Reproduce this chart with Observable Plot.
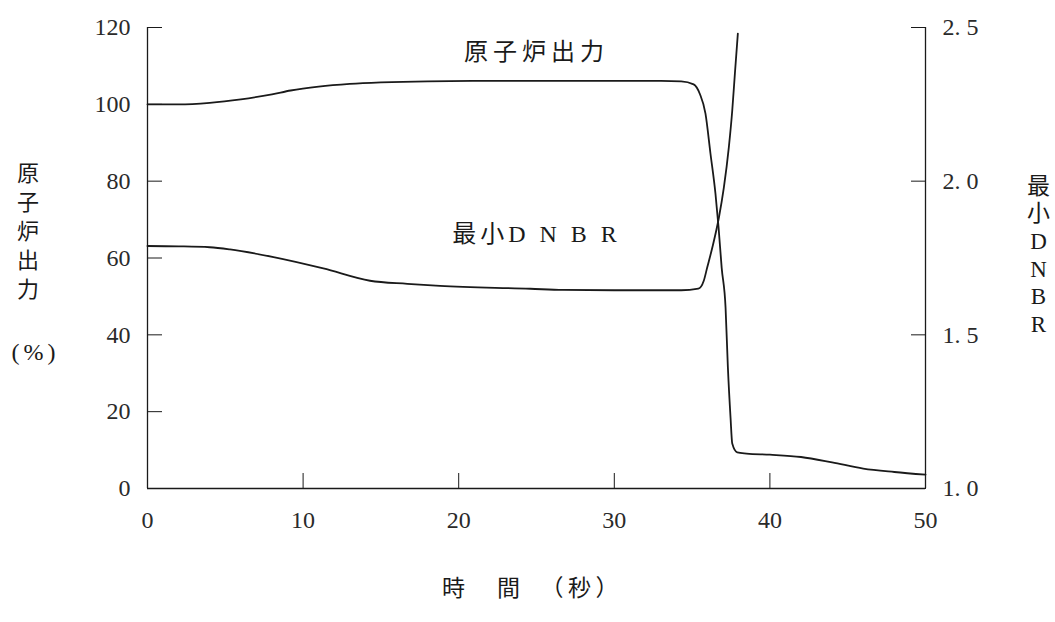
<!DOCTYPE html>
<html>
<head>
<meta charset="utf-8">
<script src="https://cdn.jsdelivr.net/npm/d3@7"></script>
<script src="https://cdn.jsdelivr.net/npm/@observablehq/plot@0.6"></script>
<style>
  html, body { margin: 0; padding: 0; background: #fff; }
</style>
</head>
<body>
<div id="chart"></div>
<script>
// ---- data ----
const powerTime  = [0, 2, 4, 6, 8, 9.2, 11, 13, 15, 18, 22, 26, 30, 33, 34.3, 35.1, 35.5, 35.86, 36.18, 36.5, 36.7, 36.9, 37.15, 37.3, 37.47, 37.58, 37.9, 38.5, 40, 42, 44, 46, 48, 50];
const powerValue = [100, 100, 100.4, 101.3, 102.6, 103.6, 104.6, 105.3, 105.7, 106, 106.1, 106.1, 106.1, 106.1, 106.0, 105.2, 102.7, 97.6, 87.2, 76.8, 68, 57.5, 47.1, 31.5, 18.5, 11.7, 9.4, 9.1, 8.8, 8.2, 6.8, 5.2, 4.3, 3.6];

const dnbrTime  = [0, 2, 4, 5.3, 8.1, 11.3, 14.3, 16.7, 18.8, 24.6, 26.7, 30, 34.3, 35.4, 35.75, 35.97, 36.3, 36.72, 37.04, 37.36, 37.58, 37.75, 37.94];
const dnbrValue = [1.789, 1.788, 1.785, 1.778, 1.753, 1.716, 1.676, 1.666, 1.659, 1.650, 1.646, 1.645, 1.645, 1.650, 1.676, 1.719, 1.784, 1.881, 1.979, 2.110, 2.230, 2.350, 2.480];

const xTicks     = [0, 10, 20, 30, 40, 50];
const powerTicks = [0, 20, 40, 60, 80, 100, 120];
const dnbrTicks  = [1.0, 1.5, 2.0, 2.5];

const powerName = "原子炉出力";
const dnbrName  = "最小D N B R";
const leftLabel = "原\n子\n炉\n出\n力";
const leftUnit  = "(%)";
const rightLabel = "最\n小\nD\nN\nB\nR";
const xLabel = "時　間　（秒）";

// DNBR (1.0–2.5) shares the power scale (0–120)
const dnbrToPower = d => (d - 1) * 80;
const powerToDnbr = p => p / 80 + 1;

const power = powerTime.map((t, i) => ({t, v: powerValue[i]}));
const dnbr  = dnbrTime.map((t, i) => ({t, v: dnbrValue[i]}));

const serif = "'Liberation Serif', 'DejaVu Serif', 'Noto Sans CJK JP', serif";
const cjk = "'Noto Sans CJK JP', sans-serif";
const ink = "#1a1a1a";
const lbl = {textAnchor: "middle", lineAnchor: "middle", fill: ink};

const chart = Plot.plot({
  width: 1055,
  height: 622,
  marginLeft: 147,
  marginRight: 130,
  marginTop: 27,
  marginBottom: 134,
  x: {domain: [xTicks[0], xTicks[xTicks.length - 1]]},
  y: {domain: [powerTicks[0], powerTicks[powerTicks.length - 1]]},
  style: {fontFamily: serif, fontSize: "24px", color: "#2a2a2a", background: "#fff"},
  marks: [
    // frame (left, right, bottom)
    Plot.ruleX([xTicks[0], xTicks[xTicks.length - 1]], {stroke: ink, strokeWidth: 1.3}),
    Plot.ruleY([powerTicks[0]], {stroke: ink, strokeWidth: 1.3}),
    // axes
    Plot.axisX(xTicks, {anchor: "bottom", tickSize: -15, tickPadding: 37, label: null, stroke: ink, fontSize: 24}),
    Plot.axisY(powerTicks, {anchor: "left", tickSize: -15, tickPadding: 32, label: null, stroke: ink, fontSize: 24}),
    Plot.axisY(dnbrTicks.map(dnbrToPower), {anchor: "right", tickSize: -15, tickPadding: 32, label: null, stroke: ink, fontSize: 24,
      tickFormat: p => powerToDnbr(p).toFixed(1).replace(".", ". ")}),
    // curves
    Plot.line(power, {x: "t", y: "v", curve: "monotone-x", stroke: ink, strokeWidth: 1.8}),
    Plot.line(dnbr, {x: "t", y: d => dnbrToPower(d.v), curve: "monotone-x", stroke: ink, strokeWidth: 1.8}),
    // in-plot labels
    Plot.text([powerName], {...lbl, text: d => d, frameAnchor: "top", dx: 0, dy: 25, fontFamily: cjk, fontSize: 24}),
    Plot.text([dnbrName], {...lbl, text: d => d, frameAnchor: "middle", dx: 0, dy: -24, fontFamily: serif, fontSize: 24}),
    // axis titles
    Plot.text([leftLabel], {...lbl, text: d => d, frameAnchor: "left", dx: -117, dy: -28, fontFamily: cjk, fontSize: 22, lineHeight: 1.32}),
    Plot.text([leftUnit], {...lbl, text: d => d, frameAnchor: "left", dx: -112, dy: 94, fontFamily: serif, fontSize: 24}),
    Plot.text([rightLabel], {...lbl, text: d => d, frameAnchor: "right", dx: 113, dy: -4, fontFamily: serif, fontSize: 23, lineHeight: 1.2}),
    Plot.text([xLabel], {...lbl, text: d => d, frameAnchor: "bottom", dx: -4, dy: 100, fontFamily: cjk, fontSize: 23})
  ]
});

// letter spacing for the spaced labels
chart.querySelectorAll("text").forEach(t => {
  if (t.textContent === powerName) t.setAttribute("letter-spacing", "5");
  if (t.textContent === dnbrName) t.setAttribute("letter-spacing", "4");
  if (t.textContent === xLabel) t.setAttribute("letter-spacing", "4.5");
  if (t.textContent === leftUnit) t.setAttribute("letter-spacing", "4");
});
document.getElementById("chart").appendChild(chart);
</script>
</body>
</html>
